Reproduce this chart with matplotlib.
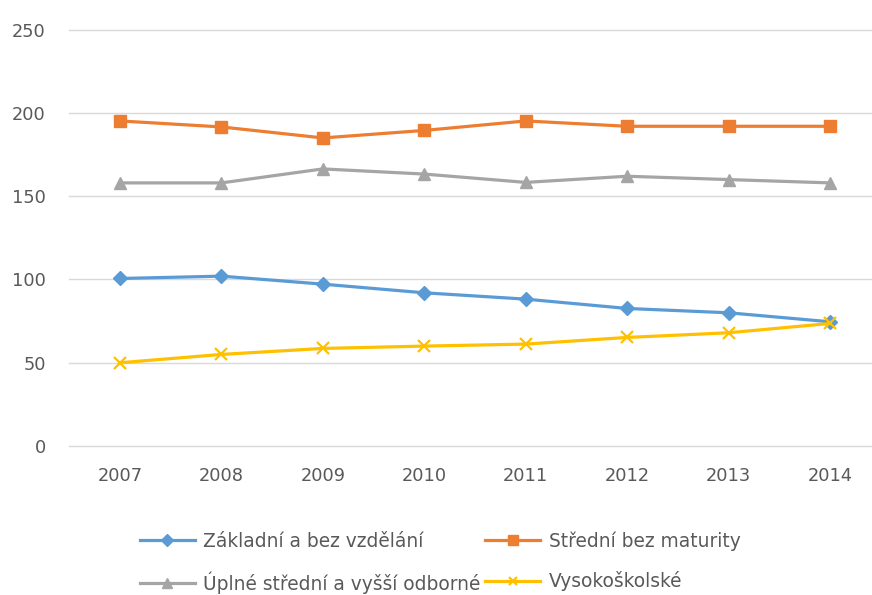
import numpy as np
import matplotlib
matplotlib.use('Agg')
import matplotlib.pyplot as plt

# %% data
years = [2007, 2008, 2009, 2010, 2011, 2012, 2013, 2014]
zakladni = [100.6, 102.0, 97.2, 92.0, 88.2, 82.6, 80.0, 74.6]
stredni = [195.2, 191.6, 185.0, 189.5, 195.2, 192.0, 192.0, 192.0]
uplne = [158.0, 158.0, 166.4, 163.3, 158.3, 162.0, 160.0, 158.0]
vysoko = [50.0, 55.0, 58.6, 60.0, 61.2, 65.2, 68.0, 73.6]
yticks = [0, 50, 100, 150, 200, 250]

labels = ['Základní a bez vzdělání', 'Střední bez maturity',
          'Úplné střední a vyšší odborné', 'Vysokoškolské']

# %% plot
plt.rcParams['font.family'] = ['DejaVu Sans']
txt = '#595959'

fig = plt.figure(figsize=(8.72, 5.95), dpi=100)
ax = fig.add_axes([0.0795, 0.2504, 0.9305, 0.6997])

l1, = ax.plot(years, zakladni, color='#5B9BD5', lw=2.3, marker='D', ms=7.5)
l2, = ax.plot(years, stredni, color='#ED7D31', lw=2.3, marker='s', ms=9)
l3, = ax.plot(years, uplne, color='#A5A5A5', lw=2.3, marker='^', ms=9)
l4, = ax.plot(years, vysoko, color='#FFC000', lw=2.3, marker='x', ms=8, mew=1.6)

ax.set_xlim(2006.5, 2014.5)
ax.set_ylim(0, 250)
ax.set_xticks(years)
ax.set_yticks(yticks)
ax.grid(axis='y', color='#D9D9D9', lw=1)
for gl in ax.get_ygridlines():
    gl.set_clip_on(False)
ax.set_axisbelow(True)
for s in ax.spines.values():
    s.set_visible(False)
ax.tick_params(length=0, labelsize=12.8, labelcolor=txt)
ax.tick_params(axis='x', pad=15)
ax.tick_params(axis='y', pad=17)

fig.legend([l1, l3, l2, l4], [labels[0], labels[2], labels[1], labels[3]],
           ncol=2, loc='upper left', bbox_to_anchor=(0.1606, 0.107),
           frameon=False, fontsize=13.4, labelcolor=txt, handlelength=2.95,
           handletextpad=0.45, columnspacing=0.25, labelspacing=1.1,
           borderaxespad=0, borderpad=0, markerscale=0.8)

fig.savefig('out.png', dpi=100)
